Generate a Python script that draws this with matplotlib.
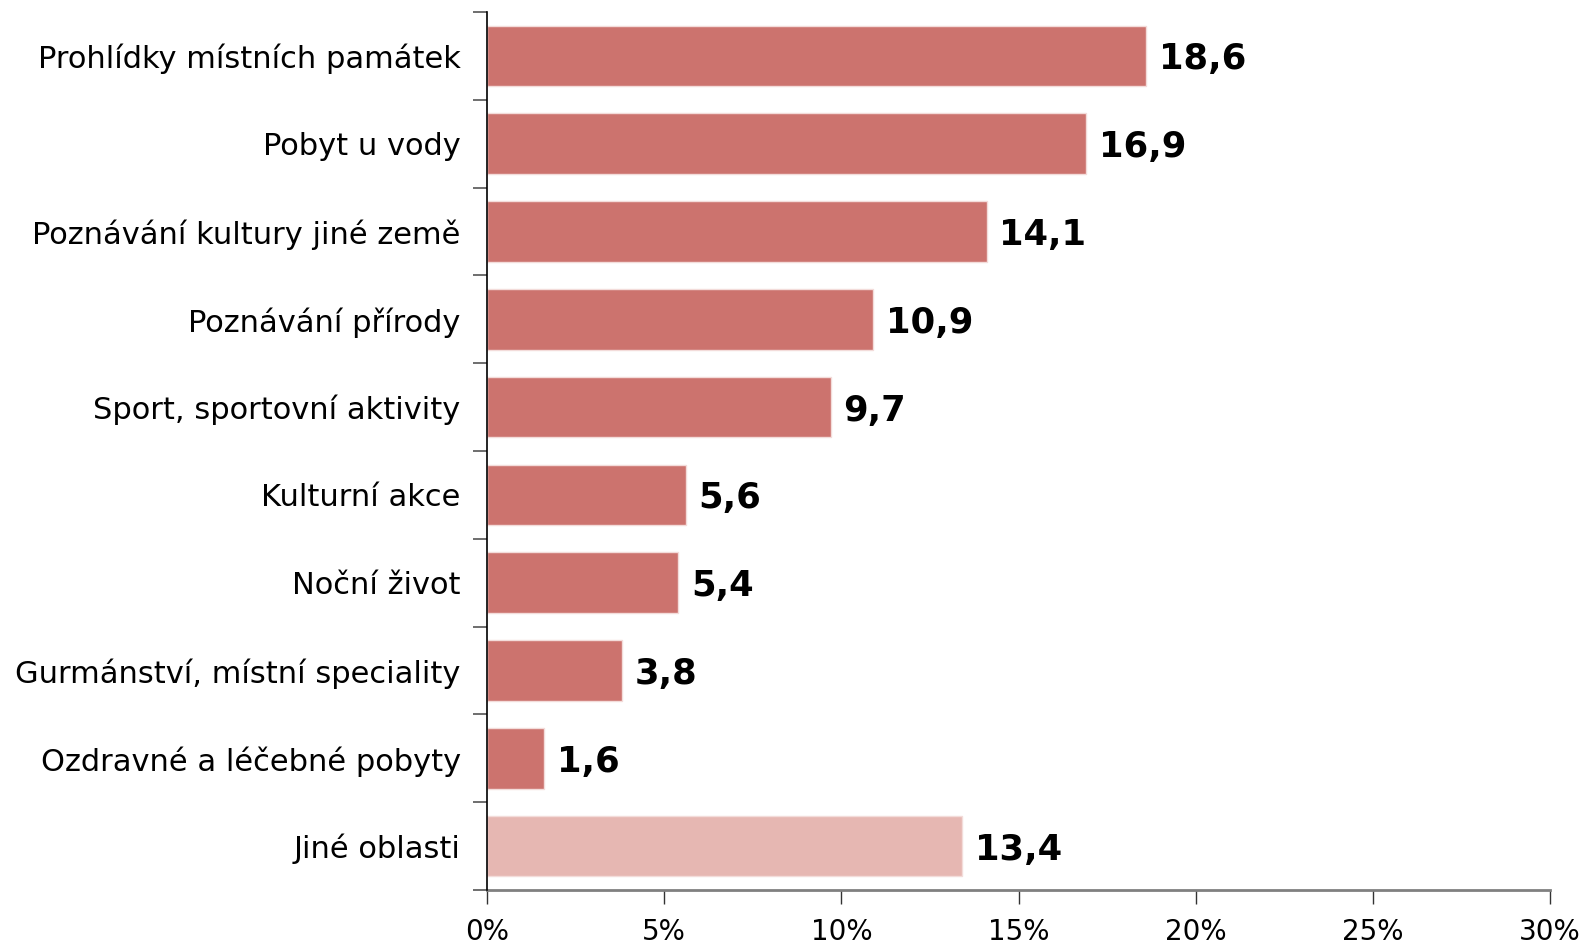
import matplotlib
matplotlib.use("Agg")
import matplotlib.pyplot as plt
from matplotlib.ticker import FuncFormatter
from matplotlib.transforms import offset_copy

categories = [
    "Prohlídky místních památek",
    "Pobyt u vody",
    "Poznávání kultury jiné země",
    "Poznávání přírody",
    "Sport, sportovní aktivity",
    "Kulturní akce",
    "Noční život",
    "Gurmánství, místní speciality",
    "Ozdravné a léčebné pobyty",
    "Jiné oblasti",
]
values = [18.6, 16.9, 14.1, 10.9, 9.7, 5.6, 5.4, 3.8, 1.6, 13.4]
x_ticks = [0, 5, 10, 15, 20, 25, 30]

main_color = "#CC736E"
other_color = "#E6B7B2"
colors = [main_color] * (len(categories) - 1) + [other_color]

plt.rcParams["font.family"] = ["DejaVu Sans"]

fig = plt.figure(figsize=(15.85, 9.43), dpi=100)
ax = fig.add_axes([0.3073, 0.0562, 0.6707, 0.9311])

n = len(categories)
pos = list(range(n))
ax.barh(pos, values, height=0.69, color=colors, edgecolor="#F3DCDA",
        linewidth=1.0, zorder=2)

# value labels, nudged slightly down so the digits sit on the bar centre
label_tr = offset_copy(ax.transData, fig=fig, x=0, y=-2.5, units="points")
for p, v in zip(pos, values):
    ax.text(v + 0.36, p, f"{v:.1f}".replace(".", ","), va="center", ha="left",
            fontsize=25.5, fontweight="bold", color="black",
            transform=label_tr)

ax.set_ylim(n - 0.5, -0.5)
ax.set_xlim(0, 30)

# category labels centred on bars, ticks at the boundaries between them
ax.set_yticks(pos)
ax.set_yticklabels(categories, fontsize=22)
ax.tick_params(axis="y", which="major", length=0, pad=19)
ax.set_yticks([i - 0.5 for i in range(n + 1)], minor=True)
ax.tick_params(axis="y", which="minor", length=10, width=1.2, color="#555555",
               direction="out")

ax.set_xticks(x_ticks)
ax.xaxis.set_major_formatter(FuncFormatter(lambda x, _: f"{int(x)}%"))
ax.tick_params(axis="x", length=10, width=1.0, color="#333333", pad=10,
               labelsize=20)

for s in ("top", "right"):
    ax.spines[s].set_visible(False)
ax.spines["left"].set_color("black")
ax.spines["left"].set_linewidth(1.2)
ax.spines["bottom"].set_color("#808080")
ax.spines["bottom"].set_linewidth(2.0)
ax.spines["left"].set_zorder(3)

fig.savefig("out.png", dpi=100)
